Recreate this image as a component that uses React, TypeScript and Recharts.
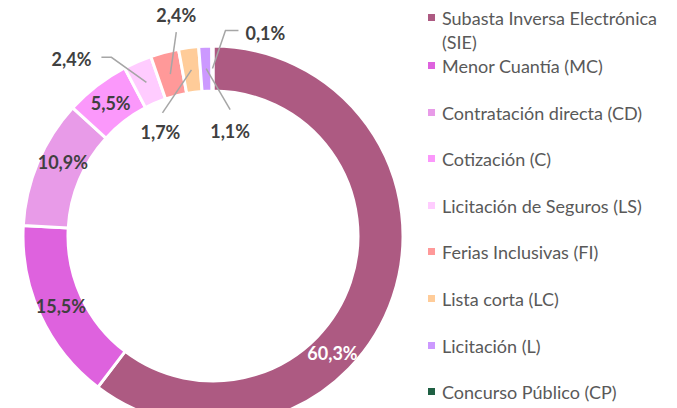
import React from "react";
import { PieChart, Pie, Cell } from "recharts";

const categories = [
  "Subasta Inversa Electrónica (SIE)",
  "Menor Cuantía (MC)",
  "Contratación directa (CD)",
  "Cotización (C)",
  "Licitación de Seguros (LS)",
  "Ferias Inclusivas (FI)",
  "Lista corta (LC)",
  "Licitación (L)",
  "Concurso Público (CP)",
];

const shares = [60.3, 15.5, 10.9, 5.5, 2.4, 2.4, 1.7, 1.1, 0.1];

const colors = [
  "#ad5a82",
  "#de62de",
  "#e89be8",
  "#fb98fb",
  "#ffccff",
  "#ff9999",
  "#ffcc99",
  "#cc99ff",
  "#1f6043",
];

const data = categories.map((name, i) => ({ name, value: shares[i] }));

// label placement: inside labels sit on the ring, small slices get a leader line
type LabelCfg = {
  angle?: number;
  line?: number[][];
  text?: number[];
  anchor?: "start" | "middle" | "end";
};
const labelLayout: LabelCfg[] = [
  { angle: -44.5 },
  {},
  { angle: 153.7 },
  {},
  { line: [[-35, -25], [-45, -25]], text: [-55, -23], anchor: "end" },
  { line: [[6, -42]], text: [6, -59], anchor: "middle" },
  { line: [[-29, 43]], text: [-31, 62], anchor: "middle" },
  { line: [[24, 41]], text: [24, 62], anchor: "middle" },
  { line: [[13, -38], [26, -38]], text: [33, -36], anchor: "start" },
];

const RAD = Math.PI / 180;
const fmt = (v: number) => v.toFixed(1).replace(".", ",") + "%";

function renderLabel(props: any) {
  const { cx, cy, midAngle, innerRadius, outerRadius, index, value } = props;
  const cfg = labelLayout[index] || {};
  const r = (innerRadius + outerRadius) / 2;
  const a = cfg.angle ?? midAngle;
  const x = cx + Math.cos(-a * RAD) * r;
  const y = cy + Math.sin(-a * RAD) * r;
  const textStyle = {
    fontFamily: "Lato, 'Open Sans', sans-serif",
    fontWeight: 700,
    fontSize: 18,
  };
  if (!cfg.line) {
    return (
      <text
        key={index}
        x={x}
        y={y}
        textAnchor="middle"
        dominantBaseline="central"
        fill={index === 0 ? "#ffffff" : "#404040"}
        style={textStyle}
      >
        {fmt(value)}
      </text>
    );
  }
  const pts = [[x, y], ...cfg.line.map(([dx, dy]) => [x + dx, y + dy])];
  return (
    <g key={index}>
      <polyline
        points={pts.map((p) => p.join(",")).join(" ")}
        fill="none"
        stroke="#a6a6a6"
        strokeWidth={1.5}
      />
      <text
        x={x + cfg.text![0]}
        y={y + cfg.text![1]}
        textAnchor={cfg.anchor}
        dominantBaseline="central"
        fill="#404040"
        style={textStyle}
      >
        {fmt(value)}
      </text>
    </g>
  );
}

function LegendBox() {
  return (
    <div
      style={{
        position: "absolute",
        left: 428,
        top: 6,
        width: 249,
        fontFamily: "Lato, 'Open Sans', sans-serif",
        fontSize: 18,
        color: "#595959",
        lineHeight: "24px",
      }}
    >
      {categories.map((name, i) => (
        <div
          key={name}
          style={{ display: "flex", alignItems: "flex-start", minHeight: 46.6 }}
        >
          <span
            style={{
              width: 7,
              height: 7,
              marginTop: 8,
              marginRight: 7,
              background: colors[i],
              flexShrink: 0,
            }}
          />
          <span style={{ width: 225 }}>{name}</span>
        </div>
      ))}
    </div>
  );
}

export default function App() {
  return (
    <div
      style={{
        position: "absolute",
        left: 0,
        top: 0,
        width: 677,
        height: 408,
        overflow: "hidden",
        background: "#ffffff",
      }}
    >
      <PieChart width={677} height={408} margin={{ top: 0, right: 0, bottom: 0, left: 0 }}>
        <Pie
          data={data}
          dataKey="value"
          nameKey="name"
          cx={213}
          cy={236}
          innerRadius={145}
          outerRadius={190}
          startAngle={90}
          endAngle={-270}
          stroke="#ffffff"
          strokeWidth={3}
          label={renderLabel}
          labelLine={false}
          isAnimationActive={false}
        >
          {data.map((d, i) => (
            <Cell key={d.name} fill={colors[i]} />
          ))}
        </Pie>
      </PieChart>
      <LegendBox />
      <div
        style={{
          position: "absolute",
          left: 625,
          top: 0,
          width: 52,
          height: 45,
          overflow: "hidden",
        }}
      >
        <div
          style={{
            position: "absolute",
            left: -45,
            top: -128,
            width: 250,
            height: 250,
            borderRadius: "50%",
            border: "2px solid #c8399e",
            boxSizing: "border-box",
          }}
        />
      </div>
    </div>
  );
}
